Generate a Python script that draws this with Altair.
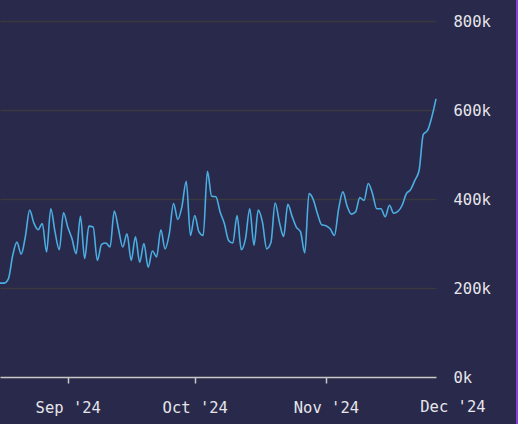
import altair as alt
import pandas as pd

# Daily totals (thousands), 16 Aug 2024 through 27 Nov 2024
start_date = "2024-08-16"
daily_k = [
    211, 211, 221, 273, 303, 276, 316, 375, 346, 331,
    345, 281, 378, 326, 286, 369, 337, 311, 277, 361,
    266, 339, 337, 262, 298, 301, 292, 373, 332, 292,
    322, 262, 315, 258, 300, 247, 283, 270, 331, 288,
    322, 390, 354, 384, 440, 318, 363, 326, 318, 462,
    406, 405, 371, 345, 307, 301, 363, 286, 311, 378,
    296, 375, 348, 288, 302, 391, 348, 316, 388, 361,
    337, 326, 279, 412, 399, 367, 342, 340, 333, 318,
    378, 416, 384, 366, 371, 403, 397, 435, 412, 378,
    378, 360, 386, 368, 372, 386, 412, 421, 442, 464,
    545, 554, 584, 625,
]
month_ticks = ["2024-09-01", "2024-10-01", "2024-11-01"]
end_label_date = ["2024-12-01"]
y_ticks_k = [0, 200, 400, 600, 800]

dates = pd.date_range(start_date, periods=len(daily_k), freq="D")
df = pd.DataFrame({"date": dates.strftime("%Y-%m-%dT%H:%M:%S"),
                   "value": [v * 1000 for v in daily_k]})
end_df = pd.DataFrame({"date": [d + "T00:00:00" for d in end_label_date]})

BG = "#29294b"
FONT = "DejaVu Sans Mono"
FONT_SIZE = 15.5
TEXT = "#e6e6ea"
AXIS = "#c8c8c8"

x_scale = alt.Scale(domain=[alt.DateTime(year=2024, month=8, date=16),
                            alt.DateTime(year=2024, month=11, date=27)])
y_scale = alt.Scale(domain=[0, 800000], nice=False)

line = alt.Chart(df).mark_line(color="#4aaee2", strokeWidth=1.6, interpolate="monotone").encode(
    x=alt.X("date:T", scale=x_scale, title=None,
            axis=alt.Axis(values=[alt.DateTime(year=2024, month=int(m[5:7]), date=1) for m in month_ticks],
                          format="%b '%y", grid=False, domainColor=AXIS, domainWidth=1.5,
                          tickColor=AXIS, tickSize=6, tickWidth=1.5, labelPadding=17,
                          labelFont=FONT, labelFontSize=FONT_SIZE, labelColor=TEXT)),
    y=alt.Y("value:Q", scale=y_scale, title=None,
            axis=alt.Axis(orient="right", values=[v * 1000 for v in y_ticks_k],
                          labelExpr="format(datum.value / 1000, 'd') + 'k'",
                          grid=True, gridColor="#3a3a3e", gridWidth=1.5,
                          domain=False, ticks=False, labelPadding=17,
                          labelFont=FONT, labelFontSize=FONT_SIZE, labelColor=TEXT,
                          labelBaseline="middle")),
)

end_label = alt.Chart(end_df).mark_text(
    font=FONT, fontSize=FONT_SIZE, color=TEXT, baseline="top", align="center"
).encode(
    x=alt.X("date:T", scale=x_scale),
    y=alt.value(379),
    text=alt.Text("date:T", format="%b '%y"),
)

edge = alt.Chart(end_df).mark_rule(color="#8a3fd8", strokeWidth=2).encode(
    x=alt.value(517), y=alt.value(-21), y2=alt.value(403)
)

chart = alt.layer(line, end_label, edge).properties(
    width=436, height=356,
    autosize=alt.AutoSizeParams(type="none"),
    padding={"left": 0, "top": 21, "right": 82, "bottom": 47},
    background=BG,
).configure_view(stroke=None)

chart.save("out.html", embed_options={"renderer": "svg", "actions": False})
